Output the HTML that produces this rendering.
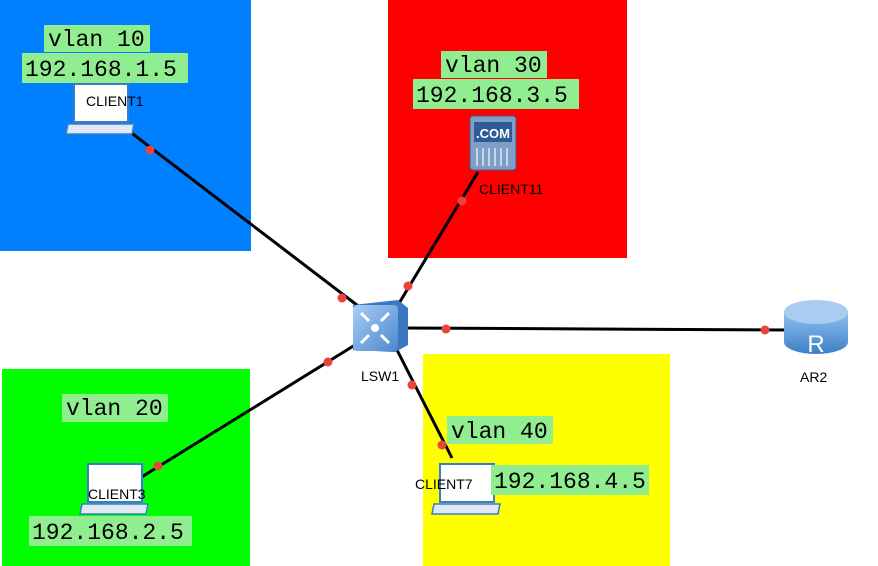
<!DOCTYPE html>
<html><head><style>
body{margin:0;width:878px;height:566px;overflow:hidden;background:#fff}
svg{display:block}
.m{font-family:"Liberation Mono",monospace;font-size:23px;fill:#000}
.s{font-family:"Liberation Sans",sans-serif;font-size:14px;fill:#000}
</style></head><body>
<svg width="878" height="566" viewBox="0 0 878 566">
<defs>
<linearGradient id="sw" x1="0" y1="0" x2="1" y2="1"><stop offset="0" stop-color="#a9cdf2"/><stop offset="1" stop-color="#4a88d0"/></linearGradient>
<linearGradient id="rt" x1="0" y1="0" x2="0" y2="1"><stop offset="0" stop-color="#8dc0ee"/><stop offset="1" stop-color="#3f7fc8"/></linearGradient>
</defs>
<rect x="0" y="0" width="251" height="251" fill="#0080ff"/>
<rect x="388" y="0" width="239" height="258" fill="#ff0000"/>
<rect x="2" y="369" width="248" height="197" fill="#00ff00"/>
<rect x="423" y="354" width="247" height="212" fill="#ffff00"/>
<g stroke="#000" stroke-width="3">
<line x1="125" y1="128" x2="370" y2="315"/>
<line x1="478" y1="172" x2="398" y2="305"/>
<line x1="405" y1="328" x2="790" y2="330"/>
<line x1="355" y1="345" x2="140" y2="478"/>
<line x1="397" y1="350" x2="452" y2="458"/>
</g>
<g fill="#e8443a">
<circle cx="150" cy="150" r="4.5"/><circle cx="342" cy="298" r="4.5"/><circle cx="408" cy="286" r="4.5"/><circle cx="462" cy="201" r="4.5"/><circle cx="446" cy="329" r="4.5"/><circle cx="765" cy="330" r="4.5"/><circle cx="328" cy="362" r="4.5"/><circle cx="158" cy="466" r="4.5"/><circle cx="412" cy="385" r="4.5"/><circle cx="442" cy="445" r="4.5"/>
</g>
<!-- laptops -->
<g id="lap">
<rect x="74" y="84" width="54" height="38" fill="#fff" stroke="#3b7cc8" stroke-width="2"/>
<path d="M68 124 L134 124 L132 134 L66 134 Z" fill="#dfe8f4" stroke="#3b7cc8" stroke-width="1.5"/>
</g>
<g transform="translate(14,380)"><rect x="74" y="84" width="54" height="38" fill="#fff" stroke="#3b7cc8" stroke-width="2"/><path d="M68 124 L134 124 L132 134 L66 134 Z" fill="#dfe8f4" stroke="#3b7cc8" stroke-width="1.5"/></g>
<g transform="translate(366,380)"><rect x="74" y="84" width="54" height="38" fill="#fff" stroke="#3b7cc8" stroke-width="2"/><path d="M68 124 L134 124 L132 134 L66 134 Z" fill="#dfe8f4" stroke="#3b7cc8" stroke-width="1.5"/></g>
<!-- server -->
<rect x="470" y="116" width="46" height="54" rx="3" fill="#7f9fc7" stroke="#3b5f8f"/>
<rect x="474" y="122" width="38" height="20" fill="#2f5b96"/>
<text x="493" y="138" text-anchor="middle" font-family="Liberation Sans" font-weight="bold" font-size="13" fill="#fff">.COM</text>
<g stroke="#dfe8f4" stroke-width="1.5"><line x1="477" y1="148" x2="477" y2="166"/><line x1="483" y1="148" x2="483" y2="166"/><line x1="489" y1="148" x2="489" y2="166"/><line x1="495" y1="148" x2="495" y2="166"/><line x1="501" y1="148" x2="501" y2="166"/><line x1="507" y1="148" x2="507" y2="166"/></g>
<!-- switch -->
<path d="M353 305 L398 300 L408 308 L408 345 L395 352 L353 350 Z" fill="#3a78c2"/>
<rect x="353" y="305" width="45" height="46" rx="4" fill="url(#sw)"/>
<circle cx="375" cy="328" r="4" fill="#fff"/>
<g stroke="#fff" stroke-width="3"><line x1="361" y1="313" x2="369" y2="321"/><line x1="389" y1="313" x2="381" y2="321"/><line x1="361" y1="343" x2="369" y2="335"/><line x1="389" y1="343" x2="381" y2="335"/></g>
<!-- router -->
<path d="M784 312 L784 342 A32 12 0 0 0 848 342 L848 312 Z" fill="url(#rt)"/>
<ellipse cx="816" cy="312" rx="32" ry="12" fill="#a9cdf2"/>
<text x="816" y="352" text-anchor="middle" font-family="Liberation Sans" font-size="24" fill="#fff">R</text>
<!-- labels -->
<rect x="44" y="25" width="106" height="27" fill="#90ee90"/><text class="m" x="48" y="46">vlan 10</text>
<rect x="22" y="53" width="166" height="30" fill="#90ee90"/><text class="m" x="25" y="76">192.168.1.5</text>
<rect x="441" y="51" width="106" height="27" fill="#90ee90"/><text class="m" x="445" y="72">vlan 30</text>
<rect x="413" y="79" width="166" height="30" fill="#90ee90"/><text class="m" x="416" y="102">192.168.3.5</text>
<rect x="62" y="394" width="106" height="28" fill="#90ee90"/><text class="m" x="66" y="415">vlan 20</text>
<rect x="29" y="516" width="163" height="30" fill="#90ee90"/><text class="m" x="32" y="539">192.168.2.5</text>
<rect x="447" y="416" width="106" height="28" fill="#90ee90"/><text class="m" x="451" y="438">vlan 40</text>
<rect x="491" y="465" width="158" height="30" fill="#90ee90"/><text class="m" x="494" y="488">192.168.4.5</text>
<text class="s" x="86" y="106">CLIENT1</text>
<text class="s" x="479" y="194">CLIENT11</text>
<text class="s" x="88" y="499">CLIENT3</text>
<text class="s" x="415" y="489">CLIENT7</text>
<text class="s" x="361" y="381">LSW1</text>
<text class="s" x="800" y="382">AR2</text>
</svg>
</body></html>
